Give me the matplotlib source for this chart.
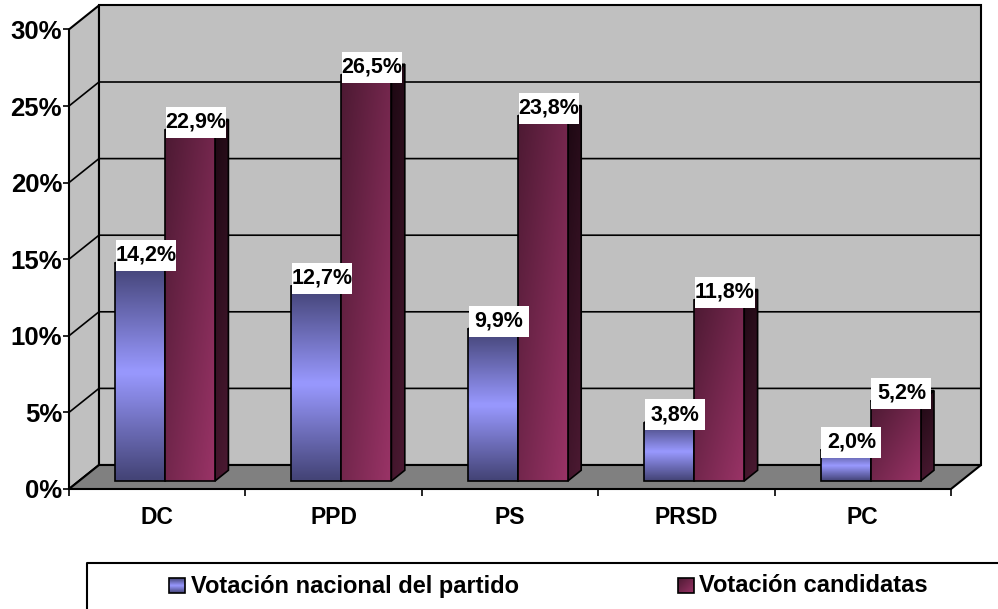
import matplotlib
matplotlib.use('Agg')

import matplotlib.pyplot as plt
import numpy as np
from matplotlib.colors import LinearSegmentedColormap
from matplotlib.patches import Polygon, Rectangle

categories = ['DC', 'PPD', 'PS', 'PRSD', 'PC']
nacional = [14.2, 12.7, 9.9, 3.8, 2.0]
candidatas = [22.9, 26.5, 23.8, 11.8, 5.2]
y_ticks = [0, 5, 10, 15, 20, 25, 30]
legend_names = ['Votación nacional del partido', 'Votación candidatas']

plt.rcParams['font.family'] = ['Liberation Sans', 'DejaVu Sans']

W, H = 998, 609
PX_X = 176.4  # pixels for one category
PX_Y = 15.32  # pixels for one percent
LEFT, BASE = 69, 489

# wall depth and bar placement, in data units
DEPTH_X, DEPTH_Y = 30 / PX_X, 24 / PX_Y
BAR_W = 50 / PX_X
BAR_GAP = 36 / PX_X
BAR_FRONT = 1 / 3
BAR_BACK = 0.78

blue_cm = LinearSegmentedColormap.from_list('b', ['#444477', '#9999ff', '#444477'])
maroon_cm = LinearSegmentedColormap.from_list('m', ['#4d1a33', '#993366'])
side_cm = LinearSegmentedColormap.from_list('s', ['#1c0812', '#4d1a33'])

fig = plt.figure(figsize=(W / 100, H / 100), dpi=100)
ax = fig.add_axes([LEFT / W, 1 - BASE / H, 5 * PX_X / W, 30 * PX_Y / H])
ax.set_xlim(0, 5)
ax.set_ylim(0, 30)
ax.set_autoscale_on(False)
ax.patch.set_visible(False)
for s in ax.spines.values():
    s.set_visible(False)


def shift(x, y, d):
    return x + d * DEPTH_X, y + d * DEPTH_Y


def gradient_poly(pts, grad, cmap, zorder):
    pts = np.array(pts)
    extent = [pts[:, 0].min(), pts[:, 0].max(), pts[:, 1].min(), pts[:, 1].max()]
    im = ax.imshow(grad, extent=extent, origin='lower', aspect='auto', cmap=cmap,
                   vmin=0, vmax=1, interpolation='bilinear', zorder=zorder)
    clip = Polygon(pts, transform=ax.transData)
    im.set_clip_path(clip)
    ax.add_patch(Polygon(pts, closed=True, fill=False, ec='black', lw=1.2,
                         zorder=zorder + 0.1, clip_on=False, joinstyle='miter'))


def draw_bar(x0, value, front_cm, front_grad, side_grad, top_color, zorder):
    x1 = x0 + BAR_W
    fx0, fy0 = shift(x0, 0, BAR_FRONT)
    fx1, fy1 = shift(x1, value, BAR_FRONT)
    bx1, by1 = shift(x1, value, BAR_BACK)
    bx0, _ = shift(x0, value, BAR_BACK)
    _, by0 = shift(x1, 0, BAR_BACK)
    # side, top, then front so the front edge stays on top
    gradient_poly([(fx1, fy0), (bx1, by0), (bx1, by1), (fx1, fy1)], side_grad, side_cm, zorder)
    ax.add_patch(Polygon([(fx0, fy1), (bx0, by1), (bx1, by1), (fx1, fy1)], closed=True,
                         fc=top_color, ec='black', lw=1.2, zorder=zorder, clip_on=False))
    gradient_poly([(fx0, fy0), (fx1, fy0), (fx1, fy1), (fx0, fy1)], front_grad, front_cm, zorder + 0.2)


def draw_label(x0, value, text):
    cx = x0 + BAR_W / 2 + 0.5 * DEPTH_X * 0.47 + BAR_FRONT * DEPTH_X - 1.2 / PX_X
    cy = value + 8 / PX_Y + BAR_FRONT * DEPTH_Y
    bw, bh = 60 / PX_X, 31 / PX_Y
    ax.add_patch(Rectangle((cx - bw / 2, cy - bh / 2), bw, bh, fc='white', ec='none',
                           zorder=50, clip_on=False))
    # text sits a little high in its box
    ax.text(cx, cy + 2.5 / PX_Y, text, ha='center', va='center_baseline', fontsize=15.5,
            fontweight='bold', color='black', zorder=51, clip_on=False)


# walls and floor
ax.add_patch(Polygon([(0, 0), shift(0, 0, 1), shift(0, 30, 1), (0, 30)], closed=True,
                     fc='#c0c0c0', ec='black', lw=1.5, clip_on=False, zorder=1))
ax.add_patch(Polygon([shift(0, 0, 1), shift(5, 0, 1), shift(5, 30, 1), shift(0, 30, 1)], closed=True,
                     fc='#c0c0c0', ec='black', lw=1.5, clip_on=False, zorder=1))
ax.add_patch(Polygon([(0, 0), (5, 0), shift(5, 0, 1), shift(0, 0, 1)], closed=True,
                     fc='#808080', ec='black', lw=1.5, clip_on=False, zorder=1.5))
for v in y_ticks[1:-1]:
    p0, p1, p2 = (0, v), shift(0, v, 1), shift(5, v, 1)
    ax.plot([p0[0], p1[0], p2[0]], [p0[1], p1[1], p2[1]], color='black', lw=1.2,
            clip_on=False, zorder=2)

# gradients, each one built for its face
v = np.linspace(0, 1, 48)[:, None]
u = np.linspace(0, 1, 24)[None, :]
blue_grad = v * np.ones_like(u)
maroon_grad = 0.5 * u + 0.5 * (1 - v)
side_grad = (1 - v) * np.ones_like(u) * 0.8 + 0.2 * u

for i in range(len(categories)):
    x0 = i + BAR_GAP
    draw_bar(x0, nacional[i], blue_cm, blue_grad, side_grad, '#2a2a55', 10 + i)
    draw_bar(x0 + BAR_W, candidatas[i], maroon_cm, maroon_grad, side_grad, '#3d1429', 10.5 + i)

for i in range(len(categories)):
    x0 = i + BAR_GAP
    draw_label(x0, nacional[i], ('%.1f%%' % nacional[i]).replace('.', ','))
    draw_label(x0 + BAR_W, candidatas[i], ('%.1f%%' % candidatas[i]).replace('.', ','))

ax.set_yticks(y_ticks)
ax.set_yticklabels(['%d%%' % t for t in y_ticks], fontsize=18.5, fontweight='bold', va='center_baseline')
ax.set_xticks(range(6))
ax.set_xticklabels([])
ax.set_xticks(np.arange(5) + 0.5, labels=categories, minor=True, fontsize=16.5, fontweight='bold')
ax.tick_params(axis='y', length=4, width=1.2, pad=1)
ax.tick_params(axis='x', which='major', length=5, width=1.2)
ax.tick_params(axis='x', which='minor', length=0, pad=12)

# legend sits partly outside the figure, as in the source
lg = fig.add_axes([0, 0, 1, 1])
lg.set_xlim(0, W)
lg.set_ylim(H, 0)
lg.axis('off')
lg.plot([87, 87, W], [H, 563, 563], color='black', lw=1.5)


def swatch(x, grad, cmap):
    lg.imshow(grad, extent=[x, x + 16, 593, 578], cmap=cmap, vmin=0, vmax=1, aspect='auto',
              interpolation='bilinear')
    lg.add_patch(Rectangle((x, 578), 16, 15, fill=False, ec='black', lw=1.2))


swatch(169, blue_grad, blue_cm)
swatch(678, maroon_grad[::-1], maroon_cm)
lg.set_xlim(0, W)
lg.set_ylim(H, 0)
lg.text(191, 586, legend_names[0], fontsize=17, fontweight='bold', va='center')
lg.text(699, 586, legend_names[1], fontsize=17, fontweight='bold', va='center')

fig.savefig('out.png', dpi=100)
